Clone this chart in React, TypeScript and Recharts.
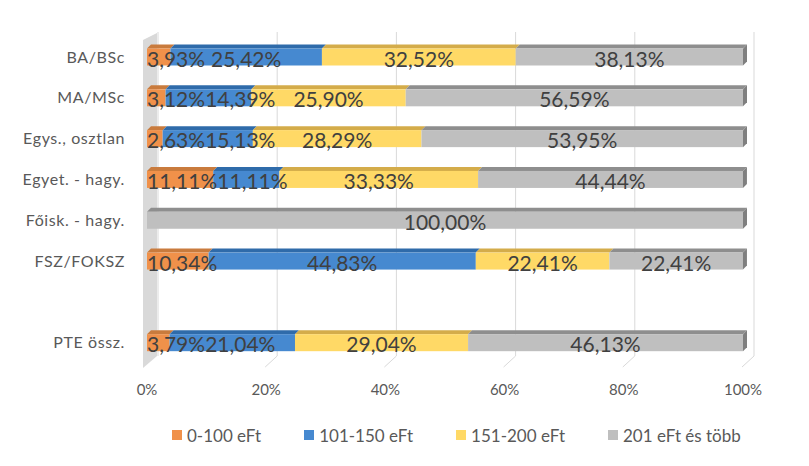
import React from 'react';
import { BarChart, Bar, XAxis, YAxis, CartesianGrid, Legend, LabelList } from 'recharts';

const categories = ['BA/BSc', 'MA/MSc', 'Egys., osztlan', 'Egyet. - hagy.', 'Főisk. - hagy.', 'FSZ/FOKSZ', '', 'PTE össz.'];
const upTo100 = [3.93, 3.12, 2.63, 11.11, 0, 10.34, null, 3.79];
const from101to150 = [25.42, 14.39, 15.13, 11.11, 0, 44.83, null, 21.04];
const from151to200 = [32.52, 25.9, 28.29, 33.33, 0, 22.41, null, 29.04];
const over200 = [38.13, 56.59, 53.95, 44.44, 100, 22.41, null, 46.13];
const xTicks = [0, 20, 40, 60, 80, 100];

const seriesNames = ['0-100 eFt', '101-150 eFt', '151-200 eFt', '201 eFt és több'];
const seriesValues = [upTo100, from101to150, from151to200, over200];
const keys = ['s0', 's1', 's2', 's3'];

const fronts = ['#F0914A', '#4689D0', '#FFD966', '#BFBFBF'];
const tops = ['#C97B3D', '#2F6BAA', '#D4AC4A', '#8E8E8E'];

const data = categories.map((name, i) => ({
  name,
  s0: upTo100[i],
  s1: from101to150[i],
  s2: from151to200[i],
  s3: over200[i],
}));

const FONT = 'Lato, "Open Sans", sans-serif';
const LABEL_SIZE = 21;

const fmt = (v: number) => v.toFixed(2).replace('.', ',') + '%';

let ctx: CanvasRenderingContext2D | null = null;
function textWidth(s: string) {
  if (!ctx) {
    ctx = document.createElement('canvas').getContext('2d');
  }
  if (!ctx) return s.length * LABEL_SIZE * 0.55;
  ctx.font = `${LABEL_SIZE}px Lato`;
  return ctx.measureText(s).width;
}

// 3D-ish bar piece: front face, thin top face, end cap on the last piece
function Bar3D(props: any) {
  const { x, y, width, height, front, top, cap } = props;
  if (!width || width <= 0) return null;
  const dx = 4;
  const dy = 4;
  return (
    <g>
      <polygon
        points={`${x},${y} ${x + dx},${y - dy} ${x + width + dx},${y - dy} ${x + width},${y}`}
        fill={top}
      />
      <rect x={x} y={y} width={width} height={height} fill={front} />
      {cap && (
        <polygon
          points={`${x + width},${y} ${x + width + dx},${y - dy} ${x + width + dx},${y + height - dy} ${x + width},${y + height}`}
          fill="#7F7F7F"
        />
      )}
    </g>
  );
}

// labels centred in their piece, pushed right when they would collide (like Excel does)
function makeLabel(si: number) {
  return (props: any) => {
    const { x, y, width, height, value, index } = props;
    if (!value) return null;
    const vals = seriesValues.map((s) => s[index] ?? 0);
    const pxPer = width / value;
    const before = vals.slice(0, si).reduce((a, b) => a + b, 0);
    const plotLeft = x - before * pxPer;
    let cum = 0;
    let prevRight = -Infinity;
    let first = true;
    let cx = x + width / 2;
    for (let k = 0; k < vals.length; k++) {
      const v = vals[k];
      if (v > 0) {
        const w = textWidth(fmt(v));
        let left = plotLeft + (cum + v / 2) * pxPer - w / 2;
        left = first ? Math.max(left, plotLeft) : Math.max(left, prevRight);
        first = false;
        prevRight = left + w;
        if (k === si) cx = left + w / 2;
      }
      cum += v;
    }
    return (
      <text
        x={cx}
        y={y + height / 2 + 1}
        textAnchor="middle"
        dominantBaseline="central"
        fill="#404040"
        fontSize={LABEL_SIZE}
        fontFamily={FONT}
      >
        {fmt(value)}
      </text>
    );
  };
}

function LegendBox() {
  return (
    <div style={{ height: 48, display: 'flex', justifyContent: 'flex-start', gap: 43, paddingLeft: 172, paddingTop: 6, boxSizing: 'border-box' }}>
      {seriesNames.map((n, i) => (
        <div key={n} style={{ display: 'flex', alignItems: 'center', fontFamily: FONT, fontSize: 17, color: '#595959', height: 22 }}>
          <span style={{ width: 10, height: 10, background: fronts[i], marginRight: 5, display: 'inline-block' }} />
          {n}
        </div>
      ))}
    </div>
  );
}

export default function App() {
  return (
    <div style={{ position: 'absolute', left: 0, top: 0, width: 809, height: 466, background: '#fff' }}>
      {/* side wall and floor edges of the 3D plot box */}
      <svg width={809} height={466} style={{ position: 'absolute', left: 0, top: 0 }}>
        <polygon points="143,40 157,33 157,356 143,368" fill="#D9D9D9" />
        {[1, 2, 3, 4, 5].map((k) => (
          <line
            key={k}
            x1={158 + k * 119.2}
            y1={356}
            x2={146 + k * 119.2}
            y2={367}
            stroke="#D9D9D9"
            strokeWidth={1}
          />
        ))}
      </svg>
      <div style={{ position: 'absolute', left: 0, top: 0 }}>
        <BarChart
          width={809}
          height={466}
          data={data}
          layout="vertical"
          margin={{ top: 36.5, right: 66, bottom: 0, left: 0 }}
          barSize={17}
        >
          <CartesianGrid
            horizontal={false}
            stroke="#D9D9D9"
            y={32}
            height={324}
            verticalCoordinatesGenerator={({ offset }: any) =>
              xTicks.map((t) => offset.left + (offset.width * t) / 100 + 11)
            }
          />
          <XAxis
            type="number"
            domain={[0, 100]}
            ticks={xTicks}
            tickFormatter={(v) => v + '%'}
            axisLine={false}
            tickLine={false}
            tickSize={0}
            tickMargin={21}
            height={55}
            tick={{ fill: '#595959', fontSize: 15, fontFamily: FONT }}
          />
          <YAxis
            type="category"
            dataKey="name"
            width={147}
            axisLine={false}
            tickLine={false}
            tickSize={0}
            tickMargin={22}
            interval={0}
            tick={{ fill: '#595959', fontSize: 16, fontFamily: FONT, letterSpacing: 0.6 }}
          />
          <Legend verticalAlign="bottom" content={() => <LegendBox />} />
          {keys.map((k, i) => (
            <Bar
              key={k}
              dataKey={k}
              name={seriesNames[i]}
              stackId="a"
              isAnimationActive={false}
              fill={fronts[i]}
              shape={(p: any) => <Bar3D {...p} front={fronts[i]} top={tops[i]} cap={i === 3} />}
            >
              <LabelList dataKey={k} content={makeLabel(i)} />
            </Bar>
          ))}
        </BarChart>
      </div>
    </div>
  );
}
